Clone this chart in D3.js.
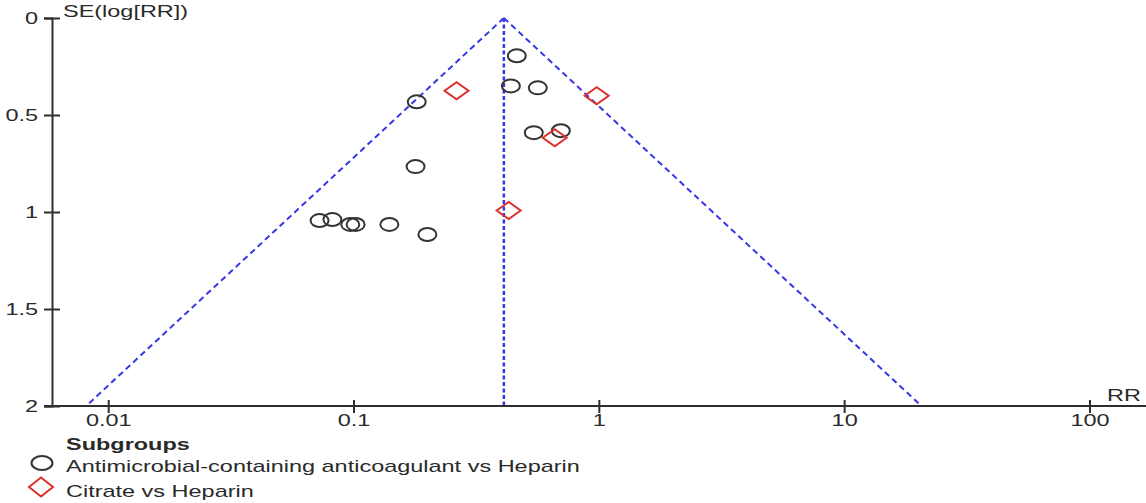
<!DOCTYPE html>
<html>
<head>
<meta charset="utf-8">
<script src="https://cdn.jsdelivr.net/npm/d3@7"></script>
<style>
  body { margin: 0; background: #fff; }
  text { font-family: "Liberation Sans", Arial, sans-serif; fill: #2a2a2a; }
</style>
</head>
<body>
<svg id="chart" width="1146" height="503"></svg>
<script>
'use strict';
// funnel plot, SE(log RR) vs RR
var pooledRR = 0.41;
var xTicks = [0.01, 0.1, 1, 10, 100],
    yTicks = [0, 0.5, 1, 1.5, 2];
var groupNames = ['Antimicrobial-containing anticoagulant vs Heparin', 'Citrate vs Heparin'];

var antiRR = [0.463, 0.438, 0.564, 0.181, 0.543, 0.700, 0.179, 0.0727, 0.082, 0.097, 0.102, 0.140, 0.200],
    antiSE = [0.195, 0.350, 0.360, 0.432, 0.591, 0.581, 0.766, 1.044, 1.039, 1.064, 1.064, 1.064, 1.116];
var citRR = [0.263, 0.98, 0.661, 0.429],
    citSE = [0.375, 0.401, 0.617, 0.992];

var svg = d3.select('#chart');
var x = d3.scaleLog().domain([0.0059, 170]).range([52, 1146]);
var y = d3.scaleLinear().domain([0, 2]).range([18, 406]);

var blue = '#3636e6', red = '#d9302b', dark = '#2e2e2e';
var fontSize = 17,
    stretchX = 1.38;   // the picture's text is wide

function stretch(sel){
    sel.each(function(){
        var w = this.getComputedTextLength();
        d3.select(this).attr('textLength', w * stretchX).attr('lengthAdjust', 'spacingAndGlyphs');
    });
}

// funnel
var seMax = 2;
var funnel = [
    [[pooledRR, 0], [pooledRR * Math.exp(-1.96 * seMax), seMax]],
    [[pooledRR, 0], [pooledRR * Math.exp(1.96 * seMax), seMax]]
];
svg.selectAll('.funnel')
    .data(funnel)
    .enter()
    .append('line')
    .attr('x1', function(d){return x(d[0][0]);})
    .attr('y1', function(d){return y(d[0][1]);})
    .attr('x2', function(d){return x(d[1][0]);})
    .attr('y2', function(d){return y(d[1][1]);})
    .attr('stroke', blue)
    .attr('stroke-width', 2)
    .attr('stroke-dasharray', '6,4');
svg.append('line')
    .attr('x1', x(pooledRR)).attr('x2', x(pooledRR))
    .attr('y1', y(0)).attr('y2', y(seMax))
    .attr('stroke', blue)
    .attr('stroke-width', 2.5)
    .attr('stroke-dasharray', '4,2.5');

// axes
var yAxis = d3.axisLeft(y).tickValues(yTicks).tickFormat(d3.format('')).tickSizeOuter(0).tickSize(8).tickPadding(6);
var gy = svg.append('g').attr('transform', 'translate(52,0)').call(yAxis);
gy.selectAll('.tick line').attr('x1', 8).attr('x2', -8);

var xAxis = d3.axisBottom(x).tickValues(xTicks).tickFormat(d3.format('')).tickSizeOuter(0).tickSize(7).tickPadding(1);
var gx = svg.append('g').attr('transform', 'translate(0,406)').call(xAxis);
gx.selectAll('.tick line').attr('y1', -6).attr('y2', 7);

[gx, gy].forEach(function(g){
    g.select('.domain').attr('stroke', dark).attr('stroke-width', 2);
    g.selectAll('.tick line').attr('stroke', dark).attr('stroke-width', 2);
    g.selectAll('.tick text').attr('font-size', fontSize).attr('fill', dark)
        .style('font-family', '"Liberation Sans", Arial, sans-serif')
        .call(stretch);
});
gx.select('.domain').attr('d', 'M44,0H1146');

svg.append('text').attr('x', 63).attr('y', 17).attr('font-size', fontSize).text('SE(log[RR])').call(stretch);
svg.append('text').attr('x', 1141).attr('y', 401).attr('font-size', fontSize)
    .attr('text-anchor', 'end').text('RR').call(stretch);

// points
var antiData = antiRR.map(function(r, i){return {rr: r, se: antiSE[i]};});
var citData = citRR.map(function(r, i){return {rr: r, se: citSE[i]};});

svg.selectAll('.anti')
    .data(antiData)
    .enter()
    .append('ellipse')
    .attr('cx', function(d){return x(d.rr);})
    .attr('cy', function(d){return y(d.se);})
    .attr('rx', 9).attr('ry', 6.5)
    .attr('fill', 'none')
    .attr('stroke', '#333')
    .attr('stroke-width', 2);

function diamond(cx, cy, w, h){
    return 'M' + (cx - w) + ',' + cy + 'L' + cx + ',' + (cy - h) + 'L' + (cx + w) + ',' + cy + 'L' + cx + ',' + (cy + h) + 'Z';
}
svg.selectAll('.cit')
    .data(citData)
    .enter()
    .append('path')
    .attr('d', function(d){return diamond(x(d.rr), y(d.se), 12, 8.5);})
    .attr('fill', 'none')
    .attr('stroke', red)
    .attr('stroke-width', 2);

// legend
svg.append('text').attr('x', 66).attr('y', 450).attr('font-size', fontSize)
    .attr('font-weight', 'bold').text('Subgroups').call(stretch);
svg.append('ellipse').attr('cx', 42).attr('cy', 463).attr('rx', 10.5).attr('ry', 7)
    .attr('fill', 'none').attr('stroke', '#333').attr('stroke-width', 2);
svg.append('text').attr('x', 66).attr('y', 472).attr('font-size', fontSize).text(groupNames[0]).call(stretch);
svg.append('path').attr('d', diamond(41, 487, 12, 9.5)).attr('fill', 'none')
    .attr('stroke', red).attr('stroke-width', 2);
svg.append('text').attr('x', 66).attr('y', 497).attr('font-size', fontSize).text(groupNames[1]).call(stretch);
</script>
</body>
</html>
